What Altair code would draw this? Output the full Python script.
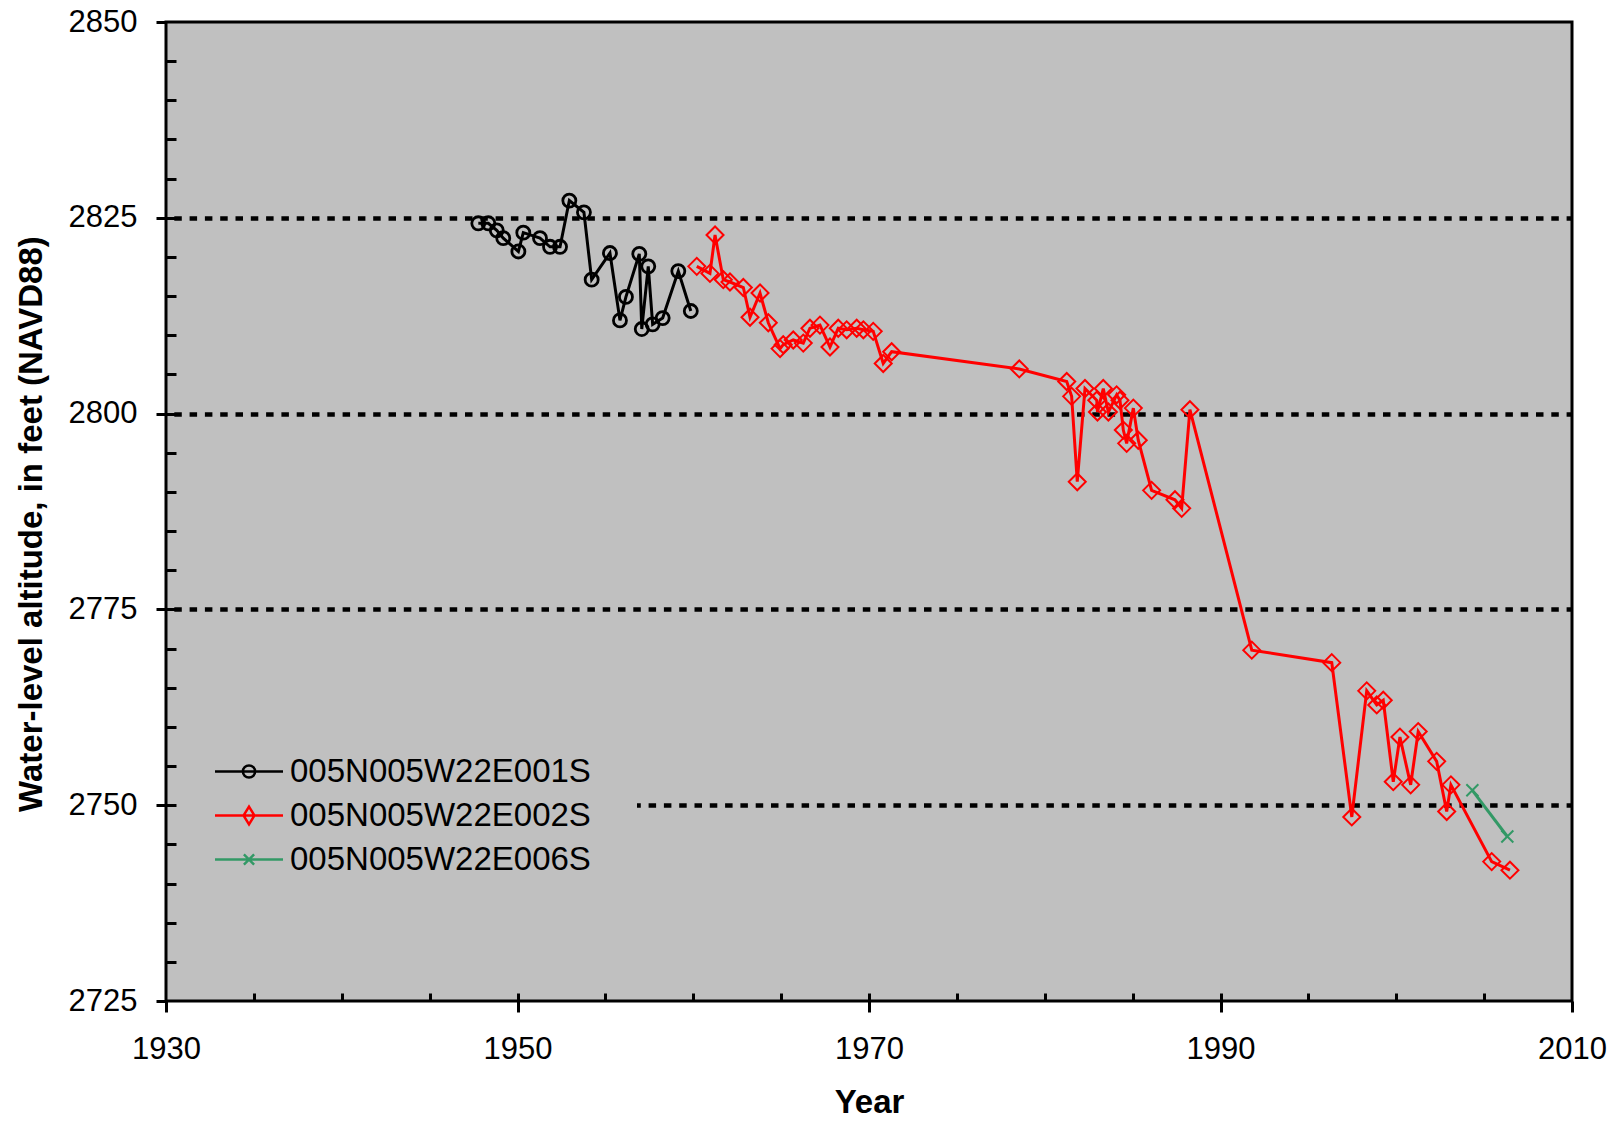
import altair as alt
import pandas as pd

series_names = ["005N005W22E001S", "005N005W22E002S", "005N005W22E006S"]
series_colors = ["#000000", "#FF0000", "#339966"]

years_001 = [1947.77, 1948.34, 1948.82, 1949.19, 1950.05, 1950.33, 1951.28, 1951.85,
             1952.42, 1952.95, 1953.78, 1954.22, 1955.26, 1955.83, 1956.17, 1956.93,
             1957.07, 1957.44, 1957.69, 1958.26, 1959.15, 1959.86]
levels_001 = [2824.3, 2824.3, 2823.4, 2822.4, 2820.7, 2823.1, 2822.4, 2821.3,
              2821.3, 2827.2, 2825.7, 2817.1, 2820.5, 2811.9, 2814.9, 2820.4,
              2810.8, 2818.8, 2811.4, 2812.2, 2818.2, 2813.1]

years_002 = [1960.20, 1960.95, 1961.24, 1961.71, 1962.09, 1962.85, 1963.23, 1963.80,
             1964.27, 1964.94, 1965.12, 1965.69, 1966.26, 1966.64, 1967.21, 1967.78,
             1968.25, 1968.73, 1969.30, 1969.68, 1970.24, 1970.81, 1971.29, 1978.55,
             1981.25, 1981.53, 1981.85, 1982.29, 1982.96, 1983.00, 1983.33, 1983.62,
             1984.09, 1984.28, 1984.47, 1984.66, 1985.04, 1985.32, 1986.08, 1987.41,
             1987.79, 1988.26, 1991.78, 1996.33, 1997.47, 1998.32, 1998.89, 1999.26,
             1999.83, 2000.21, 2000.82, 2001.25, 2002.30, 2002.87, 2003.11, 2005.43,
             2006.47]
levels_002 = [2818.8, 2817.9, 2822.8, 2817.1, 2816.8, 2816.1, 2812.3, 2815.4,
              2811.6, 2808.3, 2808.8, 2809.4, 2809.0, 2810.9, 2811.3, 2808.5,
              2810.9, 2810.7, 2810.9, 2810.7, 2810.5, 2806.4, 2807.9, 2805.7,
              2804.1, 2802.2, 2791.3, 2803.2, 2801.7, 2800.2, 2803.2, 2800.2,
              2802.4, 2801.7, 2797.9, 2796.2, 2800.7, 2796.6, 2790.2, 2789.0,
              2787.9, 2800.5, 2769.8, 2768.2, 2748.5, 2764.6, 2762.8, 2763.4,
              2753.0, 2758.7, 2752.6, 2759.4, 2755.6, 2749.2, 2752.6, 2742.8,
              2741.7]

years_006 = [2004.33, 2006.32]
levels_006 = [2751.9, 2746.0]

x_ticks_major = [1930, 1950, 1970, 1990, 2010]
x_ticks_minor = list(range(1935, 2010, 5))
y_ticks_major = [2725, 2750, 2775, 2800, 2825, 2850]
y_ticks_minor = list(range(2730, 2850, 5))
y_grid_values = [2750, 2775, 2800, 2825]

rows = []
for name, ys, vs in [(series_names[0], years_001, levels_001),
                     (series_names[1], years_002, levels_002),
                     (series_names[2], years_006, levels_006)]:
    for yr, lv in zip(ys, vs):
        rows.append({"series": name, "year": yr, "level": lv})
df = pd.DataFrame(rows)

FONT = "Liberation Sans"
x_scale = alt.Scale(domain=[1930, 2010], nice=False, zero=False)
y_scale = alt.Scale(domain=[2725, 2850], nice=False, zero=False)

legend_paths = [
    "M-1,0L1,0M-0.18,0A0.18,0.18,0,1,0,0.18,0A0.18,0.18,0,1,0,-0.18,0Z",
    "M-1,0L1,0M0,-0.26L0.16,0L0,0.26L-0.16,0Z",
    "M-1,0L1,0M-0.15,-0.15L0.15,0.15M-0.15,0.15L0.15,-0.15",
]
x_path = "M-1,-1L1,1M-1,1L1,-1"

x_main = alt.Axis(orient="bottom", values=x_ticks_major, format="d", domain=False, grid=False,
                  ticks=True, tickSize=11, tickWidth=3, tickColor="black",
                  labelPadding=22, labelFont=FONT, labelFontSize=31, labelColor="black",
                  labelFlush=False, labelOverlap=False, title="Year", titleFont=FONT,
                  titleFontSize=33, titleFontWeight="bold", titleColor="black",
                  titleX=703, titleY=111, titleBaseline="alphabetic", titleAlign="center", zindex=1)
x_minor = alt.Axis(orient="bottom", values=x_ticks_minor, offset=-8, tickSize=8, tickWidth=3,
                   tickColor="black", labels=False, domain=False, grid=False, title=None, zindex=1)
y_main = alt.Axis(orient="left", values=y_ticks_major, format="d", domain=False, grid=False,
                  ticks=True, tickSize=10, tickWidth=3, tickColor="black",
                  labelPadding=19, labelFont=FONT, labelFontSize=31, labelColor="black",
                  labelFlush=False, labelOverlap=False,
                  title="Water-level altitude, in feet (NAVD88)", titleFont=FONT,
                  titleFontSize=33, titleFontWeight="bold", titleColor="black",
                  titleX=-135, titleY=501.6, titleAngle=270, titleBaseline="middle",
                  titleAlign="center", zindex=1)
y_minor = alt.Axis(orient="left", values=y_ticks_minor, offset=-10, tickSize=10, tickWidth=3,
                   tickColor="black", labels=False, domain=False, grid=False, title=None, zindex=1)
y_grid = alt.Axis(orient="left", values=y_grid_values, grid=True, gridColor="black",
                  gridWidth=4.5, gridDash=[7.5, 7.8], gridDashOffset=7.5, gridOpacity=1,
                  ticks=False, labels=False, domain=False, title=None, zindex=0)

leg = alt.Legend(orient="none", legendX=2, legendY=683, title=None, padding=45.5,
                 fillColor="#C0C0C0", symbolSize=4624, symbolStrokeWidth=2.5,
                 symbolOffset=0, labelOffset=5.5, labelFont=FONT, labelFontSize=33,
                 labelColor="black", labelLimit=700, clipHeight=42, rowPadding=2)

base = alt.Chart(df)

# stroke scale is data-driven (sorted series order matches series_colors)
stroke_scale = alt.Scale(range=series_colors)

def enc(xax, yax):
    return dict(
        x=alt.X("year:Q", scale=x_scale, axis=xax),
        y=alt.Y("level:Q", scale=y_scale, axis=yax),
        stroke=alt.Stroke("series:N", scale=stroke_scale, legend=None),
    )

lines = base.mark_line(strokeWidth=3).encode(**enc(x_main, y_main))
black_pts = base.transform_filter(alt.datum.series == series_names[0]).mark_point(
    shape="circle", size=170, strokeWidth=2.8, filled=False, opacity=1).encode(**enc(x_minor, y_minor))
red_pts = base.transform_filter(alt.datum.series == series_names[1]).mark_point(
    shape="diamond", size=289, strokeWidth=2, filled=False, opacity=1).encode(**enc(None, y_grid))
green_pts = base.transform_filter(alt.datum.series == series_names[2]).mark_point(
    shape=x_path, size=144, strokeWidth=2, filled=False, opacity=1).encode(**enc(None, None))
legend_layer = base.transform_filter("false").mark_point(
    filled=False, size=4624, strokeWidth=2.5, opacity=1).encode(
    x=alt.X("year:Q", scale=x_scale, axis=None),
    y=alt.Y("level:Q", scale=y_scale, axis=None),
    color=alt.Color("series:N", scale=alt.Scale(domain=series_names, range=series_colors), legend=leg),
    shape=alt.Shape("series:N", scale=alt.Scale(domain=series_names, range=legend_paths), legend=leg),
)

chart = alt.layer(lines, black_pts, red_pts, green_pts, legend_layer).resolve_axis(
    x="independent", y="independent"
).properties(
    width=1406, height=979,
    autosize=alt.AutoSizeParams(type="none"),
    padding={"left": 158, "top": 14, "right": 38, "bottom": 114},
    background="white",
).configure_view(fill="#C0C0C0", stroke="black", strokeWidth=3)

chart.save("out.html", embed_options={"renderer": "svg", "actions": False})
